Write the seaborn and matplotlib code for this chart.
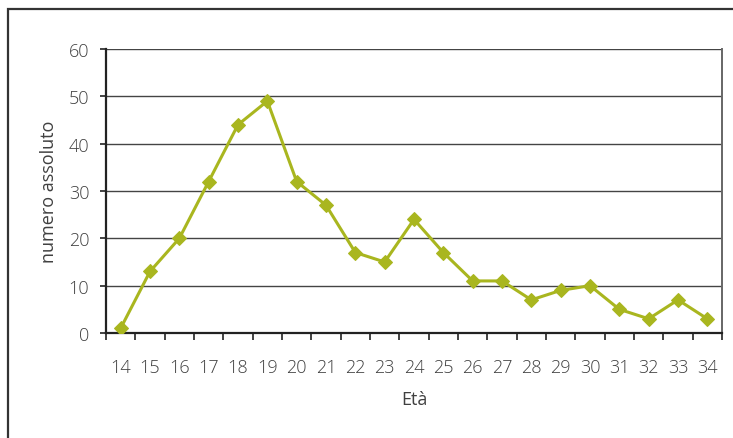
import matplotlib
matplotlib.use("Agg")
import matplotlib.pyplot as plt
from matplotlib.patches import Rectangle
from matplotlib.ticker import FixedLocator
import seaborn as sns
import pandas as pd

ages = [14, 15, 16, 17, 18, 19, 20, 21, 22, 23, 24, 25, 26, 27, 28, 29, 30, 31, 32, 33, 34]
counts = [1, 13, 20, 32, 44, 49, 32, 27, 17, 15, 24, 17, 11, 11, 7, 9, 10, 5, 3, 7, 3]
y_ticks = [0, 10, 20, 30, 40, 50, 60]

sns.set_theme(style="white")
plt.rcParams["font.family"] = ["Open Sans", "DejaVu Sans"]
plt.rcParams["font.weight"] = "light"

text_color = "#404040"
line_color = "#a9b61f"

df = pd.DataFrame({"eta": ages, "numero": counts})

fig = plt.figure(figsize=(7.33, 4.39), dpi=100)
ax = fig.add_axes([106 / 733, 1 - 334 / 439, 616 / 733, 284 / 439])

# outer frame of the chart area
fig.patches.append(Rectangle((8 / 733, -0.1), 1.2, (429 / 439) + 0.1,
                             transform=fig.transFigure, fill=False,
                             edgecolor="#333333", linewidth=1.6, zorder=0))

ax.set_ylim(0, 60)
ax.set_xlim(ages[0] - 0.5, ages[-1] + 0.5)
ax.yaxis.set_major_locator(FixedLocator(y_ticks))
ax.grid(axis="y", color="#444444", linewidth=1.0)
ax.set_axisbelow(True)

sns.lineplot(data=df, x="eta", y="numero", ax=ax, color=line_color,
             linewidth=2.2, marker="D", markersize=7,
             markeredgecolor=line_color, markerfacecolor=line_color, zorder=3)

ax.set_xticks(ages)
ax.set_xticklabels([str(a) for a in ages])
ax.xaxis.set_minor_locator(FixedLocator([a - 0.5 for a in ages] + [ages[-1] + 0.5]))
ax.tick_params(axis="x", which="major", length=0, pad=18, labelsize=13, labelcolor=text_color)
ax.tick_params(axis="x", which="minor", length=5, width=1.2, color="#222222", direction="out", bottom=True)
ax.tick_params(axis="y", which="major", length=4, width=1.2, color="#222222", pad=8,
               labelsize=13, labelcolor=text_color, left=True)

for s in ["left", "bottom"]:
    ax.spines[s].set_color("#222222")
    ax.spines[s].set_linewidth(1.6)
ax.spines["right"].set_color("#666666")
ax.spines["right"].set_linewidth(1.4)
ax.spines["top"].set_visible(False)

ax.set_xlabel("Età", fontsize=13, color=text_color, labelpad=10)
ax.set_ylabel("numero assoluto", fontsize=13, color=text_color, labelpad=8)

fig.savefig("out.png", dpi=100)
